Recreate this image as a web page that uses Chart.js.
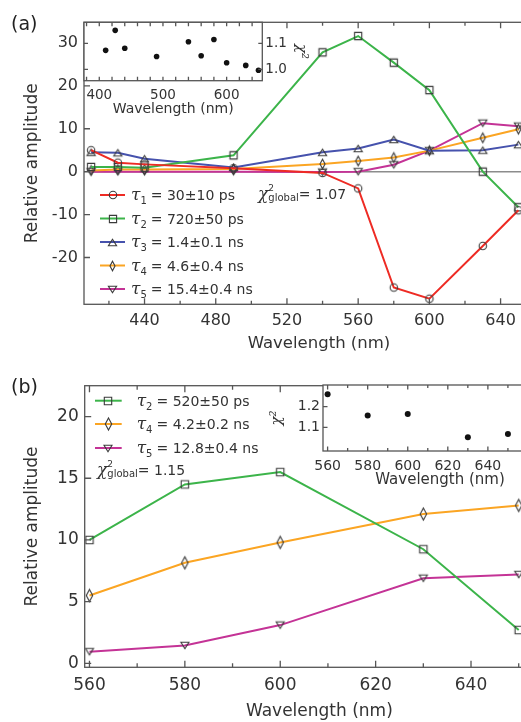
<!DOCTYPE html>
<html>
<head>
<meta charset="utf-8">
<script src="https://cdn.jsdelivr.net/npm/chart.js@4.4.1/dist/chart.umd.min.js"></script>
<style>
html, body { margin: 0; padding: 0; background: #fff; }
#page { position: relative; width: 521px; height: 722px; overflow: hidden; }
canvas { position: absolute; }
.tag { position: absolute; font-family: "DejaVu Sans"; font-size: 19px; line-height: 22px; color: #222; }
</style>
</head>
<body>
<div id="page">
  <canvas id="mainA" width="560" height="360" style="left:0px;top:0px"></canvas>
  <canvas id="insetA" width="320" height="125" style="left:0px;top:0px"></canvas>
  <canvas id="mainB" width="560" height="362" style="left:0px;top:360px"></canvas>
  <canvas id="insetB" width="300" height="135" style="left:260px;top:360px"></canvas>
  <div class="tag" style="left:11px;top:12px">(a)</div>
  <div class="tag" style="left:11px;top:375px">(b)</div>
</div>
<script>
// ---- panel (a) ----
var wlA = [410, 425, 440, 490, 540, 560, 580, 600, 630, 650];
var tau1A = [5.0, 2.1, 1.7, 0.8, -0.3, -3.9, -27.0, -29.6, -17.3, -9.0];
var tau2A = [1.1, 1.1, 0.9, 3.8, 27.8, 31.6, 25.4, 19.0, 0.0, -8.3];
var tau3A = [4.5, 4.4, 3.0, 1.0, 4.5, 5.4, 7.5, 4.9, 5.0, 6.3];
var tau4A = [0.3, 0.5, 0.5, 0.6, 1.8, 2.5, 3.3, 4.9, 7.9, 9.9];
var tau5A = [0.0, 0.0, 0.0, 0.0, -0.1, 0.0, 1.6, 4.9, 11.3, 10.6];
var chiA = [1.073, 1.150, 1.081, 1.049, 1.106, 1.052, 1.115, 1.025, 1.015, 0.996];
var subsA = ['1', '2', '3', '4', '5'];
var textsA = ['= 30±10 ps', '= 720±50 ps', '= 1.4±0.1 ns', '= 4.6±0.4 ns', '= 15.4±0.4 ns'];
var chiGlobalA = '1.07';
var xTicksA = [440, 480, 520, 560, 600, 640];
var yTicksA = [-20, -10, 0, 10, 20, 30];
var xTicksInsetA = [400, 500, 600];
var yTicksInsetA = [1.0, 1.1];

// ---- panel (b) ----
var wlB = [560, 580, 600, 630, 650];
var tau2B = [10.0, 14.5, 15.5, 9.25, 2.7];
var tau4B = [5.5, 8.15, 9.8, 12.1, 12.8];
var tau5B = [0.95, 1.45, 3.1, 6.9, 7.2];
var chiB = [1.26, 1.157, 1.165, 1.052, 1.068];
var subsB = ['2', '4', '5'];
var textsB = ['= 520±50 ps', '= 4.2±0.2 ns', '= 12.8±0.4 ns'];
var chiGlobalB = '1.15';
var xTicksB = [560, 580, 600, 620, 640];
var yTicksB = [0, 5, 10, 15, 20];
var xTicksInsetB = [560, 580, 600, 620, 640];
var yTicksInsetB = [1.1, 1.2];

var RED = '#ee2b24', GREEN = '#3cb44a', BLUE = '#4652ad', ORANGE = '#fba523', MAGENTA = '#c43396';
var INK = '#333';
var FONT = 'DejaVu Sans';

// hollow marker drawn once, handed to chart.js as pointStyle
function marker(shape, w, h) {
  var c = document.createElement('canvas');
  c.width = Math.ceil(w) + 4; c.height = Math.ceil(h) + 4;
  var g = c.getContext('2d');
  var cx = c.width / 2, cy = c.height / 2;
  g.strokeStyle = '#3a3a3a'; g.lineWidth = 1.1;
  g.beginPath();
  if (shape == 'circle') g.arc(cx, cy, w / 2, 0, Math.PI * 2);
  else if (shape == 'square') g.rect(cx - w / 2, cy - h / 2, w, h);
  else if (shape == 'up') { g.moveTo(cx, cy - h / 2); g.lineTo(cx + w / 2, cy + h / 2); g.lineTo(cx - w / 2, cy + h / 2); g.closePath(); }
  else if (shape == 'down') { g.moveTo(cx, cy + h / 2); g.lineTo(cx + w / 2, cy - h / 2); g.lineTo(cx - w / 2, cy - h / 2); g.closePath(); }
  else { g.moveTo(cx, cy - h / 2); g.lineTo(cx + w / 2, cy); g.lineTo(cx, cy + h / 2); g.lineTo(cx - w / 2, cy); g.closePath(); }
  g.stroke();
  return c;
}

function series(xs, ys, color, mk) {
  return {
    data: xs.map(function (x, i) { return {x: x, y: ys[i]}; }),
    borderColor: color, borderWidth: 2, backgroundColor: color,
    pointStyle: mk, pointRadius: 4, pointHoverRadius: 4, tension: 0, fill: false
  };
}

function steps(a, b, d) { var r = []; for (var v = a; v <= b + 1e-9; v += d) r.push(+v.toFixed(3)); return r; }

// frame, inner ticks, zero line, white inset background
var frame = {
  id: 'frame',
  beforeDraw: function (chart, args, o) {
    if (!o.fill) return;
    var a = chart.chartArea, ctx = chart.ctx;
    ctx.save(); ctx.fillStyle = '#fff';
    ctx.fillRect(a.left, a.top, a.right - a.left, a.bottom - a.top);
    ctx.restore();
  },
  beforeDatasetsDraw: function (chart, args, o) {
    if (!o.zero) return;
    var a = chart.chartArea, ctx = chart.ctx, y = chart.scales.y.getPixelForValue(0);
    ctx.save(); ctx.strokeStyle = '#8c8c8c'; ctx.lineWidth = 1.5;
    ctx.beginPath(); ctx.moveTo(a.left, y); ctx.lineTo(a.right, y); ctx.stroke();
    ctx.restore();
  },
  afterDatasetsDraw: function (chart, args, o) {
    var a = chart.chartArea, ctx = chart.ctx, sx = chart.scales.x, sy = chart.scales.y;
    ctx.save();
    ctx.strokeStyle = '#555'; ctx.lineWidth = 1.3;
    ctx.strokeRect(a.left, a.top, a.right - a.left, a.bottom - a.top);
    ctx.beginPath();
    (o.xt || []).forEach(function (t) {
      t[0].forEach(function (v) {
        var px = sx.getPixelForValue(v);
        if (px < a.left || px > a.right) return;
        ctx.moveTo(px, a.bottom); ctx.lineTo(px, a.bottom - t[1]);
        ctx.moveTo(px, a.top); ctx.lineTo(px, a.top + t[1]);
      });
    });
    (o.yt || []).forEach(function (t) {
      t[0].forEach(function (v) {
        var py = sy.getPixelForValue(v);
        ctx.moveTo(a.left, py); ctx.lineTo(a.left + t[1], py);
        ctx.moveTo(a.right, py); ctx.lineTo(a.right - t[1], py);
      });
    });
    ctx.stroke();
    ctx.restore();
  },
  afterDraw: function (chart, args, o) {
    if (!o.key) return;
    var k = o.key, ctx = chart.ctx;
    ctx.save();
    chart.data.datasets.forEach(function (ds, i) {
      var y = k.rows[i];
      ctx.strokeStyle = ds.borderColor; ctx.lineWidth = 2;
      ctx.beginPath(); ctx.moveTo(k.x0, y); ctx.lineTo(k.x1, y); ctx.stroke();
      var m = ds.pointStyle;
      ctx.drawImage(m, Math.round(k.xm - m.width / 2), Math.round(y - m.height / 2));
      var x = k.tx;
      ctx.fillStyle = INK; ctx.textBaseline = 'alphabetic';
      ctx.font = 'italic 17px "DejaVu Serif"'; ctx.fillText('τ', x, y + 5); x += ctx.measureText('τ').width;
      ctx.font = '10px "' + FONT + '"'; ctx.fillText(k.subs[i], x, y + 9); x += ctx.measureText(k.subs[i]).width + 4;
      ctx.font = '14px "' + FONT + '"'; ctx.fillText(k.texts[i], x, y + 5);
    });
    var c = k.chi, cx = c.x;
    ctx.fillStyle = INK;
    ctx.font = 'italic 17px "DejaVu Serif"'; ctx.fillText('χ', cx, c.y); cx += ctx.measureText('χ').width;
    ctx.font = '9px "' + FONT + '"'; ctx.fillText('2', cx, c.y - 8);
    ctx.font = '10px "' + FONT + '"'; ctx.fillText('global', cx, c.y + 2); cx += ctx.measureText('global').width;
    ctx.font = '14px "' + FONT + '"'; ctx.fillText('= ' + c.v, cx, c.y);
    ctx.restore();
  }
};

function axisX(min, max, ticks, h, tf, tp, title, ttf, tpad, dec) {
  return {
    type: 'linear', min: min, max: max,
    grid: {display: false, drawTicks: false}, border: {display: false},
    afterBuildTicks: function (s) { s.ticks = ticks.map(function (v) { return {value: v}; }); },
    afterFit: function (s) { s.height = h; },
    ticks: {padding: tp, color: INK, font: {family: FONT, size: tf},
      callback: function (v) { return dec ? v.toFixed(dec) : String(v); }},
    title: {display: true, text: title, color: INK, font: {family: FONT, size: ttf}, padding: {top: 0, bottom: tpad}}
  };
}

function axisY(min, max, ticks, w, pos, tf, tp, title, tfont, tpad, dec) {
  return {
    type: 'linear', position: pos, min: min, max: max,
    grid: {display: false, drawTicks: false}, border: {display: false},
    afterBuildTicks: function (s) { s.ticks = ticks.map(function (v) { return {value: v}; }); },
    afterFit: function (s) { s.width = w; },
    ticks: {padding: tp, color: INK, font: {family: FONT, size: tf},
      callback: function (v) { return dec ? v.toFixed(dec) : String(v); }},
    title: {display: true, text: title, color: INK, font: tfont, padding: {top: tpad, bottom: 0}}
  };
}

var base = {animation: false, responsive: false, devicePixelRatio: 1, events: []};

// main (a)
new Chart(document.getElementById('mainA'), {
  type: 'line',
  data: {datasets: [
    series(wlA, tau1A, RED, marker('circle', 7.4, 7.4)),
    series(wlA, tau2A, GREEN, marker('square', 7.2, 7.2)),
    series(wlA, tau3A, BLUE, marker('up', 8.2, 6.6)),
    series(wlA, tau4A, ORANGE, marker('diamond', 5, 9.6)),
    series(wlA, tau5A, MAGENTA, marker('down', 8.2, 6.6))
  ]},
  options: Object.assign({}, base, {
    layout: {padding: {left: 0, top: 22.3, right: 0, bottom: 0}},
    scales: {
      x: axisX(406, 670, xTicksA, 55.7, 16, 7, 'Wavelength (nm)', 16.5, 6),
      y: axisY(-30.9, 34.8, yTicksA, 84, 'left', 16, 6, 'Relative amplitude', {family: FONT, size: 17}, 22)
    },
    plugins: {
      legend: {display: false}, tooltip: {enabled: false},
      frame: {
        zero: true,
        xt: [[xTicksA, 6], [steps(420, 660, 40), 3.5]],
        yt: [[yTicksA, 6]],
        key: {x0: 100, x1: 125, xm: 112.5, tx: 131, rows: [195, 218.5, 242, 265.5, 289],
          subs: subsA, texts: textsA, chi: {x: 258, y: 199, v: chiGlobalA}}
      }
    }
  }),
  plugins: [frame]
});

// inset (a)
new Chart(document.getElementById('insetA'), {
  type: 'scatter',
  data: {datasets: [{
    data: wlA.map(function (x, i) { return {x: x, y: chiA[i]}; }),
    pointRadius: 2.8, pointHoverRadius: 2.8, backgroundColor: '#111', borderWidth: 0
  }]},
  options: Object.assign({}, base, {
    layout: {padding: {left: 84, top: 22.3, right: 0, bottom: 0}},
    scales: {
      x: axisX(376, 656, xTicksInsetA, 44.3, 13.5, 7, 'Wavelength (nm)', 14, 7.6),
      y: axisY(0.956, 1.181, yTicksInsetA, 57.7, 'right', 13.5, 3, 'χ²', {family: 'DejaVu Serif', style: 'italic', size: 15}, 10, 1)
    },
    plugins: {
      legend: {display: false}, tooltip: {enabled: false},
      frame: {fill: true, xt: [[steps(380, 660, 20), 4]], yt: [[yTicksInsetA, 4]]}
    }
  }),
  plugins: [frame]
});

// main (b)
new Chart(document.getElementById('mainB'), {
  type: 'line',
  data: {datasets: [
    series(wlB, tau2B, GREEN, marker('square', 7.4, 7.4)),
    series(wlB, tau4B, ORANGE, marker('diamond', 6.4, 12)),
    series(wlB, tau5B, MAGENTA, marker('down', 8, 6.6))
  ]},
  options: Object.assign({}, base, {
    layout: {padding: {left: 0, top: 25.7, right: 0, bottom: 0}},
    scales: {
      x: axisX(559, 657.4, xTicksB, 54.7, 17, 8, 'Wavelength (nm)', 17, 0),
      y: axisY(-0.32, 22.5, yTicksB, 84.7, 'left', 17, 6, 'Relative amplitude', {family: FONT, size: 17}, 22)
    },
    plugins: {
      legend: {display: false}, tooltip: {enabled: false},
      frame: {
        xt: [[xTicksB, 6.5], [steps(570, 650, 20), 4]],
        yt: [[yTicksB, 6.5]],
        key: {x0: 95, x1: 121.7, xm: 108.3, tx: 136.7, rows: [40.7, 64, 88],
          subs: subsB, texts: textsB, chi: {x: 97, y: 115, v: chiGlobalB}}
      }
    }
  }),
  plugins: [frame]
});

// inset (b)
new Chart(document.getElementById('insetB'), {
  type: 'scatter',
  data: {datasets: [{
    data: wlB.map(function (x, i) { return {x: x, y: chiB[i]}; }),
    pointRadius: 3, pointHoverRadius: 3, backgroundColor: '#111', borderWidth: 0
  }]},
  options: Object.assign({}, base, {
    layout: {padding: {left: 0, top: 25, right: 0, bottom: 0}},
    scales: {
      x: axisX(557.7, 674.5, xTicksInsetB, 44, 14, 6.6, 'Wavelength (nm)', 15, 5.5),
      y: axisY(0.985, 1.305, yTicksInsetB, 63, 'left', 14, 3, 'χ²', {family: 'DejaVu Serif', style: 'italic', size: 15}, 8, 1)
    },
    plugins: {
      legend: {display: false}, tooltip: {enabled: false},
      frame: {fill: true, xt: [[steps(560, 660, 20), 4.5], [steps(570, 670, 20), 3]], yt: [[yTicksInsetB, 4.5]]}
    }
  }),
  plugins: [frame]
});
</script>
</body>
</html>
